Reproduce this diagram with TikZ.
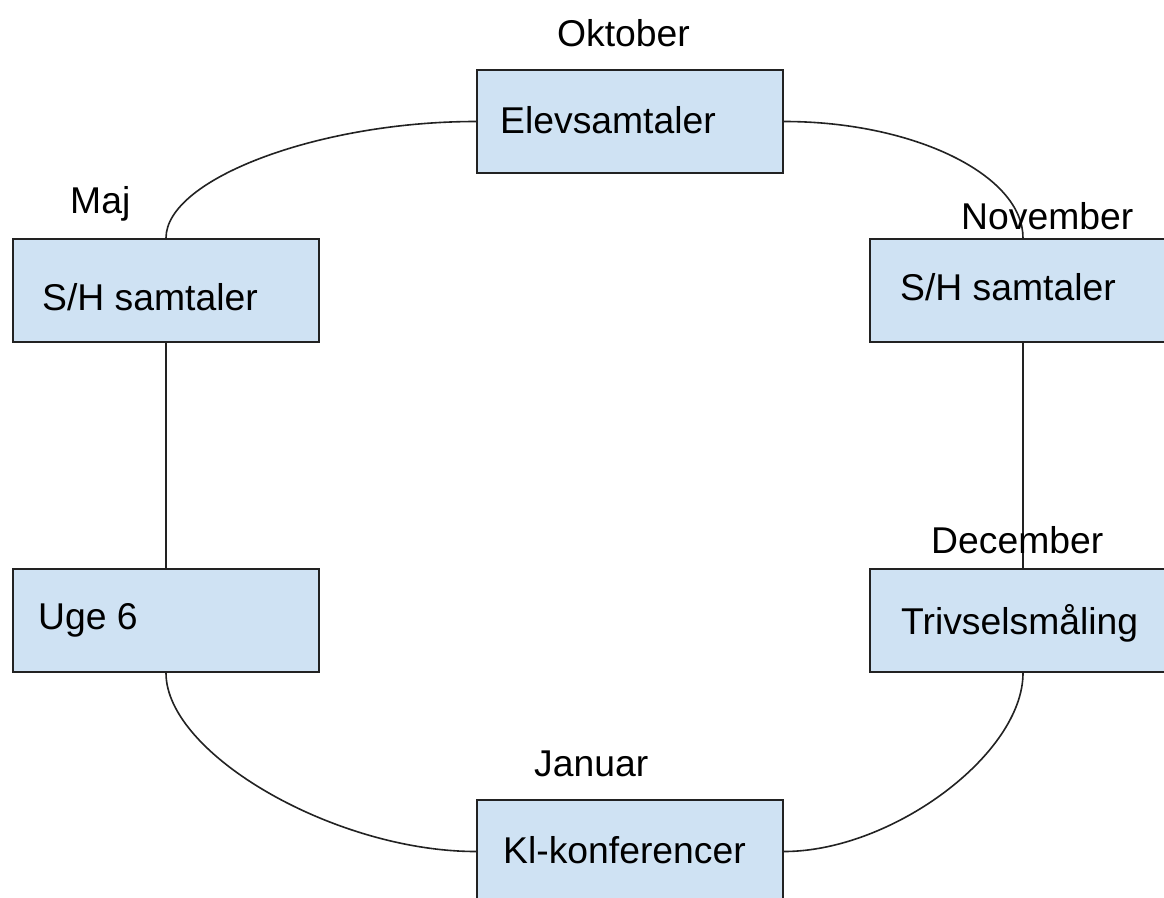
\documentclass[tikz,border=0pt]{standalone}
\usepackage{fontspec}
\setmainfont{Liberation Sans}
\definecolor{boxfill}{HTML}{CFE2F3}
\definecolor{ink}{HTML}{222222}
\begin{document}
\begin{tikzpicture}[x=1pt,y=-1pt,
  box/.style={draw=ink, line width=2pt, fill=boxfill, minimum width=306pt, minimum height=103pt, anchor=north west, inner sep=0pt},
  lbl/.style={anchor=base west, inner sep=0pt, font=\fontsize{37.3}{44}\selectfont, text=black},
  link/.style={draw=ink, line width=1.6pt}]
\useasboundingbox (0,0) rectangle (1164,897);
\clip (0,0) rectangle (1164,897);
\fill[white] (0,0) rectangle (1164,897);
% boxes
\node[box] (E) at (476,69) {};
\node[box] (SHL) at (12,238) {};
\node[box] (SHR) at (869,238) {};
\node[box] (U6) at (12,568) {};
\node[box] (TM) at (869,568) {};
\node[box] (KL) at (476,799) {};
% connectors
\draw[link] (E.west) .. controls +(-157,0) and +(0,-59) .. (SHL.north);
\draw[link] (E.east) .. controls +(130,0) and +(0,-63) .. (SHR.north);
\draw[link] (SHL.south) -- (U6.north);
\draw[link] (SHR.south) -- (TM.north);
\draw[link] (U6.south) .. controls +(0,81) and +(-141,0) .. (KL.west);
\draw[link] (TM.south) .. controls +(0,81) and +(108,0) .. (KL.east);
% texts
\node[lbl] (tE) at (500,133) {Elevsamtaler};
\node[lbl] (mO) at (557,46) {Oktober};
\node[lbl] (tSHL) at (42,310) {S/H samtaler};
\node[lbl] (mMaj) at (70,213) {Maj};
\node[lbl] (tSHR) at (900,300) {S/H samtaler};
\node[lbl] (mNov) at (961,229) {November};
\node[lbl] (tU6) at (38,629) {Uge 6};
\node[lbl] (tTM) at (901,634) {Trivselsmåling};
\node[lbl] (mDec) at (931,553) {December};
\node[lbl] (tKL) at (503,863) {Kl-konferencer};
\node[lbl] (mJan) at (534,776) {Januar};
\end{tikzpicture}
\end{document}
